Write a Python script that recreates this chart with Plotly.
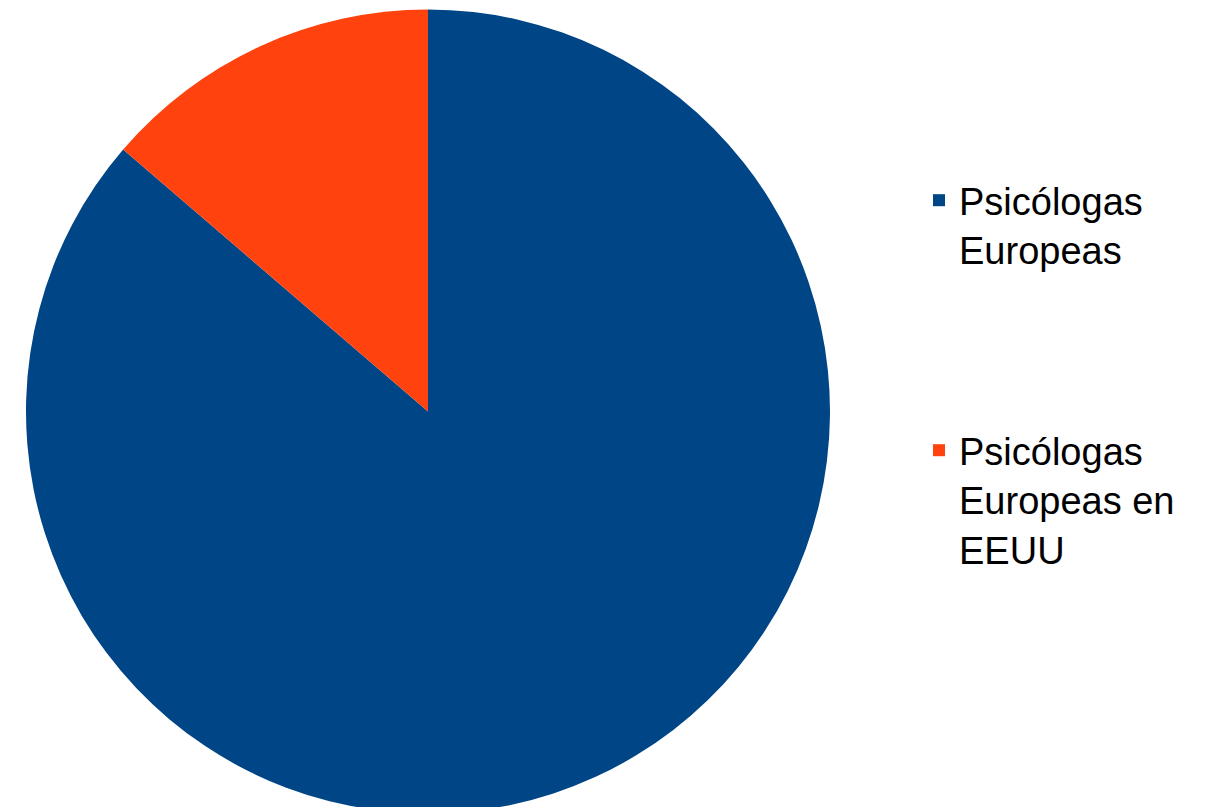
import plotly.graph_objects as go

labels = ["Psicólogas<br>Europeas<br>&nbsp;<br>&nbsp;<br>&nbsp;", "Psicólogas<br>Europeas en<br>EEUU"]
values = [86.3, 13.7]
colors = ["#004586", "#ff420e"]

W, H = 1225, 807

fig = go.Figure(go.Pie(
    labels=labels,
    values=values,
    sort=False,
    direction="clockwise",
    rotation=0,
    marker=dict(colors=colors, line=dict(width=0)),
    textinfo="none",
    hoverinfo="label+percent",
    domain=dict(x=[18 / W, 822 / W], y=[0, 1]),
))

fig.update_layout(
    width=W, height=H,
    margin=dict(l=0, r=0, t=0, b=0),
    paper_bgcolor="white",
    plot_bgcolor="white",
    font=dict(family="Liberation Sans, Arial, sans-serif", color="#000000"),
    legend=dict(
        x=911 / W, xanchor="left",
        y=1 - 161 / H, yanchor="top",
        font=dict(size=38, family="Liberation Sans, Arial, sans-serif"),
        valign="top",
        bgcolor="rgba(0,0,0,0)",
    ),
)

fig.write_html("out.html")
